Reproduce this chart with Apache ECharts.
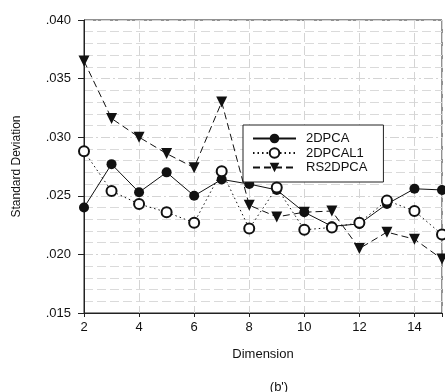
<!DOCTYPE html>
<html>
<head>
<meta charset="utf-8">
<script src="https://cdn.jsdelivr.net/npm/echarts@6/dist/echarts.min.js"></script>
<style>
  html, body { margin: 0; padding: 0; background: #fff; }
  #main { width: 445px; height: 392px; }
</style>
</head>
<body>
<div id="main"></div>
<script>
// dimension values on the x axis
var dims = [2, 3, 4, 5, 6, 7, 8, 9, 10, 11, 12, 13, 14, 15];
var seriesNames = ['2DPCA', '2DPCAL1', 'RS2DPCA'];
var std2dpca   = [0.0240, 0.0277, 0.0253, 0.0270, 0.0250, 0.0264, 0.0260, 0.0255, 0.0236, 0.0224, 0.0226, 0.0243, 0.0256, 0.0255];
var std2dpcal1 = [0.0288, 0.0254, 0.0243, 0.0236, 0.0227, 0.0271, 0.0222, 0.0257, 0.0221, 0.0223, 0.0227, 0.0246, 0.0237, 0.0217];
var stdRs      = [0.0365, 0.0316, 0.0300, 0.0286, 0.0274, 0.0330, 0.0242, 0.0232, 0.0236, 0.0237, 0.0205, 0.0219, 0.0213, 0.0196];
var yTicks = [0.015, 0.020, 0.025, 0.030, 0.035, 0.040];

function pairs(vals) {
    var out = [];
    for (var i = 0; i < dims.length; i++) out.push([dims[i], vals[i]]);
    return out;
}

var font = 'Liberation Sans, Arial, sans-serif';
var myChart = echarts.init(document.getElementById('main'), null, { renderer: 'canvas' });

var option = {
    animation: false,
    backgroundColor: '#fff',
    title: {
        text: "(b')",
        left: 274, top: 376,
        textAlign: 'center',
        textStyle: { fontFamily: font, fontSize: 13, fontWeight: 'normal', color: '#111' }
    },
    grid: {
        left: 84, right: -7, top: 20, bottom: 79,
        show: true, borderColor: '#222', borderWidth: 1, backgroundColor: 'transparent'
    },
    legend: {
        orient: 'vertical',
        left: 243, top: 125,
        data: seriesNames,
        backgroundColor: '#fff',
        borderColor: '#222', borderWidth: 1,
        padding: [7, 16, 8, 9],
        itemWidth: 43, itemHeight: 12, itemGap: 1.5,
        textStyle: { fontFamily: font, fontSize: 13, color: '#111', padding: [0, 0, 0, 5] }
    },
    xAxis: {
        type: 'value',
        min: 2, max: 15, interval: 2,
        name: 'Dimension',
        nameLocation: 'middle', nameGap: 35,
        nameTextStyle: { fontFamily: font, fontSize: 13, color: '#111' },
        axisLine: { lineStyle: { color: '#222' } },
        axisTick: { length: 4, lineStyle: { color: '#222' } },
        axisLabel: {
            fontFamily: font, fontSize: 13, color: '#111', margin: 8,
            formatter: function (v) { return v === 15 ? '' : v; }
        },
        splitLine: { show: true, lineStyle: { color: '#d4d4d4', type: [9, 4] } }
    },
    yAxis: {
        type: 'value',
        min: 0.015, max: 0.040, interval: 0.005,
        name: 'Standard Deviation',
        nameLocation: 'middle', nameGap: 61,
        nameTextStyle: { fontFamily: font, fontSize: 12, color: '#111' },
        axisLine: { show: true, lineStyle: { color: '#222' } },
        axisTick: { show: true, length: 6, lineStyle: { color: '#222' } },
        axisLabel: {
            fontFamily: font, fontSize: 13, color: '#111', margin: 13,
            formatter: function (v) {
                for (var i = 0; i < yTicks.length; i++) {
                    if (Math.abs(v - yTicks[i]) < 1e-9) return yTicks[i].toFixed(3).replace('0.', '.');
                }
                return '';
            }
        },
        splitLine: { show: true, lineStyle: { color: '#d4d4d4', type: [9, 3, 2, 3] } },
        minorTick: { show: false, splitNumber: 5 },
        minorSplitLine: { show: true, lineStyle: { color: '#dadada', type: [9, 4] } }
    },
    series: [
        {
            name: '2DPCA', type: 'line', z: 3,
            data: pairs(std2dpca),
            symbol: 'circle', symbolSize: 10,
            itemStyle: { color: '#111' },
            lineStyle: { color: '#111', width: 1, type: 'solid' }
        },
        {
            name: 'RS2DPCA', type: 'line', z: 4,
            data: pairs(stdRs),
            symbol: 'triangle', symbolRotate: 180, symbolSize: 11,
            itemStyle: { color: '#111' },
            lineStyle: { color: '#111', width: 1, type: [7, 4] }
        },
        {
            name: '2DPCAL1', type: 'line', z: 5,
            data: pairs(std2dpcal1),
            symbol: 'emptyCircle', symbolSize: 10,
            itemStyle: { color: '#111', borderColor: '#111', borderWidth: 1 },
            lineStyle: { color: '#111', width: 1, type: [1.5, 3] }
        }
    ]
};

if (option)
    myChart.setOption(option);
</script>
</body>
</html>
